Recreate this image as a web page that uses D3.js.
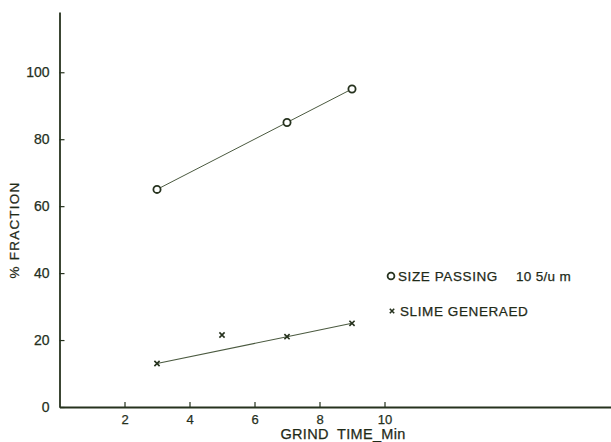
<!DOCTYPE html>
<html>
<head>
<meta charset="utf-8">
<script src="https://cdn.jsdelivr.net/npm/d3@7"></script>
<style>
  html, body { margin: 0; padding: 0; background: #ffffff; }
  svg { display: block; }
  text { font-family: "Liberation Sans", Arial, sans-serif; fill: #1f2a18; stroke: #1f2a18; stroke-width: 0.25px; }
</style>
</head>
<body>
<svg id="chart" width="611" height="442"></svg>
<script>
// Grind time (min) against % fraction
const passingTime = [3, 7, 9];
const passingPct = [65, 85, 95];

const slimeTime = [3, 5, 7, 9];
const slimePct = [13, 21.5, 21, 25];
// points joined by the trend line
const slimeLineTime = [3, 7, 9];
const slimeLinePct = [13, 21, 25];

const xTicks = [2, 4, 6, 8, 10];
const yTicks = [0, 20, 40, 60, 80, 100];

const legendLabels = ["SIZE PASSING", "SLIME GENERAED"];
const sizeNote = "10 5/u m";

const ink = "#26321e";
const lineInk = "#4b5a40";

const svg = d3.select("#chart");

const x = d3.scaleLinear().domain([0, 17]).range([59.5, 612]);
const y = d3.scaleLinear().domain([0, 118]).range([407, 12]);

// axes
const gx = svg.append("g").attr("transform", `translate(0,${y(0)})`)
  .call(d3.axisBottom(x).tickValues(xTicks).tickSize(-5).tickSizeOuter(0).tickPadding(8).tickFormat(d3.format("d")));
const gy = svg.append("g").attr("transform", `translate(${x(0)},0)`)
  .call(d3.axisLeft(y).tickValues(yTicks).tickSize(-5).tickSizeOuter(0).tickPadding(10).tickFormat(d3.format("d")));

[gx, gy].forEach(g => {
  g.select(".domain").attr("stroke", ink).attr("stroke-width", 1.8);
  g.selectAll(".tick line").attr("stroke", ink).attr("stroke-width", 1.2);
  g.selectAll(".tick text").style("fill", ink).attr("font-family", "Liberation Sans, Arial, sans-serif");
});
gx.selectAll(".tick text").attr("font-size", 13);
gy.selectAll(".tick text").attr("font-size", 14);

// axis titles
svg.append("text")
  .attr("x", 343).attr("y", 439)
  .attr("text-anchor", "middle")
  .attr("font-size", 14.5)
  .attr("letter-spacing", 0.3)
  .style("white-space", "pre")
  .text("GRIND  TIME_Min");

svg.append("text")
  .attr("transform", "translate(19,230) rotate(-90)")
  .attr("text-anchor", "middle")
  .attr("font-size", 13.5)
  .attr("letter-spacing", 1.2)
  .text("% FRACTION");

const line = d3.line().x(d => x(d[0])).y(d => y(d[1]));

// size passing series
svg.append("path")
  .datum(d3.zip(passingTime, passingPct))
  .attr("d", line)
  .attr("fill", "none").attr("stroke", lineInk).attr("stroke-width", 1);

svg.selectAll("circle.pass")
  .data(d3.zip(passingTime, passingPct))
  .join("circle")
  .attr("class", "pass")
  .attr("cx", d => x(d[0])).attr("cy", d => y(d[1]))
  .attr("r", 3.6)
  .attr("fill", "#fff").attr("stroke", ink).attr("stroke-width", 1.8);

// slime generated series
svg.append("path")
  .datum(d3.zip(slimeLineTime, slimeLinePct))
  .attr("d", line)
  .attr("fill", "none").attr("stroke", lineInk).attr("stroke-width", 1.1);

function cross(sel, s) {
  sel.append("path")
    .attr("d", `M${-s},${-s}L${s},${s}M${-s},${s}L${s},${-s}`)
    .attr("stroke", ink).attr("stroke-width", 1.6).attr("fill", "none");
}

svg.selectAll("g.slime")
  .data(d3.zip(slimeTime, slimePct))
  .join("g")
  .attr("class", "slime")
  .attr("transform", d => `translate(${x(d[0])},${y(d[1])})`)
  .call(cross, 2.6);

// legend
svg.append("circle")
  .attr("cx", 391).attr("cy", 276).attr("r", 3.4)
  .attr("fill", "#fff").attr("stroke", ink).attr("stroke-width", 1.8);
svg.append("g").attr("transform", "translate(392,311)").call(cross, 2.2);

svg.selectAll("text.leg")
  .data(legendLabels)
  .join("text")
  .attr("class", "leg")
  .attr("x", (d, i) => i === 0 ? 398 : 400)
  .attr("y", (d, i) => i === 0 ? 281 : 316)
  .attr("font-size", 13.5)
  .attr("letter-spacing", 0.6)
  .text(d => d);

svg.append("text")
  .attr("x", 516).attr("y", 281)
  .attr("font-size", 13.5)
  .attr("letter-spacing", 0.3)
  .style("white-space", "pre")
  .text(sizeNote);
</script>
</body>
</html>
